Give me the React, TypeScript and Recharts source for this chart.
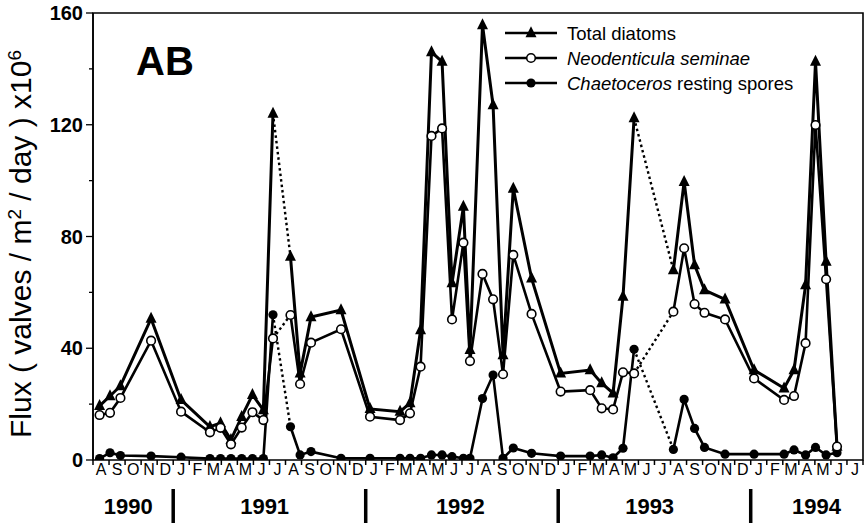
import { LineChart, Line, XAxis, YAxis, ReferenceArea } from 'recharts';

// sampling dates, in months after 1 Aug 1990
const sampleMonths = [
  0.41, 1.06, 1.71, 3.62, 5.49, 7.29, 7.95, 8.6, 9.27, 9.94, 10.62, 11.22,
  12.31, 12.91, 13.59, 15.46, 17.27, 19.14, 19.76, 20.42, 21.1, 21.76, 22.38, 23.09,
  23.5, 24.28, 24.94, 25.56, 26.2, 27.34, 29.15, 30.99, 31.71, 32.42, 33.04, 33.73,
  36.18, 36.85, 37.5, 38.12, 39.4, 41.21, 43.08, 43.7, 44.42, 45.04, 45.7, 46.38,
];

const totalDiatoms = [
  19.4, 22.9, 26.5, 50.6, 21.5, 11.9, 13.2, 7.2, 15.5, 23.3, 17.9, 124,
  72.8, 31, 51.2, 53.7, 18.3, 17.3, 20.4, 46.5, 146, 142.6, 63.3, 90.7,
  39.4, 155.7, 127, 37.6, 97.2, 65, 31, 32.2, 27.5, 23.9, 58.5, 122.4,
  68, 99.6, 69.8, 60.8, 57.5, 32.2, 25.7, 32.2, 62.6, 142.6, 71, 4.8,
];

const neodenticula = [
  16.1, 16.9, 22.2, 42.7, 17.3, 9.9, 11.5, 5.6, 11.6, 17.1, 14.3, 43.5,
  51.9, 27.2, 42, 46.8, 15.5, 14.3, 16.7, 33.4, 116, 118.7, 50.3, 77.8,
  35.4, 66.6, 57.5, 30.7, 73.4, 52.3, 24.5, 25, 18.5, 18.1, 31.4, 31,
  53.1, 75.8, 55.8, 52.7, 50.3, 29.2, 21.5, 22.9, 41.8, 119.9, 64.7, 4.8,
];

const chaetoceros = [
  0.5, 2.6, 1.6, 1.4, 1.0, 0.5, 0.5, 0.5, 0.5, 0.5, 0.5, 52,
  11.9, 1.8, 3, 0.6, 0.6, 0.6, 0.6, 0.6, 1.8, 1.8, 1.2, 0.6,
  0.6, 22, 30.4, 0.6, 4.3, 2.4, 1.4, 1.4, 1.8, 0.8, 4.2, 39.6,
  3.8, 21.7, 11.3, 4.5, 2.1, 2.1, 2.1, 3.6, 1.8, 4.5, 1.8, 2.6,
];

// no samples between these pairs -> dotted
const gapAfter = [11, 35];

const monthLetters = 'ASONDJFMAMJJASONDJFMAMJJASONDJFMAMJJASONDJFMAMJJ'.split('');
const years = ['1990', '1991', '1992', '1993', '1994'];
const yearCenters = [2.2, 10.7, 22.9, 34.7, 45.1];
const yearBreaks = [5, 17, 29, 41];
const yTicks = [0, 20, 40, 60, 80, 100, 120, 140, 160];

const FONT = '"Liberation Sans", Arial, Helvetica, sans-serif';

const Tri = ({ cx, cy, s = 11 }: any) => (
  <polygon
    points={`${cx},${cy - s * 0.62} ${cx - s * 0.5},${cy + s * 0.38} ${cx + s * 0.5},${cy + s * 0.38}`}
    fill="#000"
  />
);
const OpenDot = ({ cx, cy }: any) => (
  <circle cx={cx} cy={cy} r={4.3} fill="#fff" stroke="#000" strokeWidth={1.6} />
);
const FillDot = ({ cx, cy }: any) => <circle cx={cx} cy={cy} r={4.6} fill="#000" />;

const series = [
  { key: 'chaet', width: 2.6, dot: FillDot },
  { key: 'total', width: 3, dot: Tri },
  { key: 'neo', width: 2.6, dot: OpenDot },
];

// one tick list: month boundaries (tick marks + year bars), month centres (letters), year centres
const TimeTick = ({ x, y, payload }: any) => {
  const v = payload.value;
  const yi = yearCenters.indexOf(v);
  if (yi >= 0) {
    return (
      <text x={x} y={y + 54} textAnchor="middle" fontSize={22} fontWeight="bold" fontFamily={FONT} fill="#000">
        {years[yi]}
      </text>
    );
  }
  if (Number.isInteger(v)) {
    return (
      <g>
        <line x1={x} y1={y} x2={x} y2={y + 5} stroke="#000" strokeWidth={1.5} />
        {yearBreaks.includes(v) && (
          <line x1={x} y1={y + 29} x2={x} y2={y + 63} stroke="#000" strokeWidth={3.5} />
        )}
      </g>
    );
  }
  return (
    <text x={x} y={y + 15} textAnchor="middle" fontSize={16} fontFamily={FONT} fill="#000">
      {monthLetters[Math.floor(v)]}
    </text>
  );
};

const ValueTick = ({ x, y, payload }: any) => {
  const v = payload.value;
  const major = v % 40 === 0;
  return (
    <g>
      <line x1={x - (major ? 7 : 4)} y1={y} x2={x} y2={y} stroke="#000" strokeWidth={1.3} />
      {major && (
        <text x={x - 10} y={y + 7} textAnchor="end" fontSize={20} fontWeight="bold" fontFamily={FONT} fill="#000">
          {v}
        </text>
      )}
    </g>
  );
};

export default function App() {
  const rows = sampleMonths.map((m, i) => ({
    m,
    total: totalDiatoms[i],
    neo: neodenticula[i],
    chaet: chaetoceros[i],
  }));

  const cuts = [0, ...gapAfter.map((g) => g + 1), rows.length];
  const segments = cuts.slice(0, -1).map((a, i) => rows.slice(a, cuts[i + 1]));
  const bridges = gapAfter.map((g) => [rows[g], rows[g + 1]]);

  const timeTicks: number[] = [];
  for (let i = 0; i <= 48; i++) timeTicks.push(i);
  for (let i = 0; i < 48; i++) timeTicks.push(i + 0.5);
  timeTicks.push(...yearCenters);

  const legendRows = [
    { y: 33, dot: Tri, label: <tspan>Total diatoms</tspan> },
    { y: 58, dot: OpenDot, label: <tspan fontStyle="italic">Neodenticula seminae</tspan> },
    {
      y: 83,
      dot: FillDot,
      label: (
        <>
          <tspan fontStyle="italic">Chaetoceros</tspan>
          <tspan> resting spores</tspan>
        </>
      ),
    },
  ];

  return (
    <div style={{ position: 'absolute', left: 0, top: 0, background: '#fff' }}>
      <LineChart width={866} height={523} margin={{ top: 13, right: 3, bottom: 0, left: 0 }}>
        <XAxis
          xAxisId="m"
          type="number"
          dataKey="m"
          domain={[0, 48]}
          ticks={timeTicks}
          interval={0}
          height={63}
          tickSize={0}
          tickMargin={0}
          tickLine={false}
          axisLine={false}
          tick={<TimeTick />}
          allowDataOverflow
        />
        <YAxis
          type="number"
          domain={[0, 160]}
          ticks={yTicks}
          interval={0}
          width={93}
          tickSize={0}
          tickMargin={0}
          tickLine={false}
          axisLine={{ stroke: '#000', strokeWidth: 1.5 }}
          tick={<ValueTick />}
          allowDataOverflow
        />
        <ReferenceArea xAxisId="m" x1={0} x2={48} y1={0} y2={160} fill="none" stroke="#000" strokeWidth={1.6} />

        {series.map((s) =>
          bridges.map((b, i) => (
            <Line
              key={`${s.key}-gap-${i}`}
              xAxisId="m"
              data={b}
              dataKey={s.key}
              stroke="#000"
              strokeWidth={2.4}
              strokeDasharray="2.5 3"
              dot={false}
              activeDot={false}
              isAnimationActive={false}
            />
          ))
        )}
        {series.map((s) =>
          segments.map((seg, i) => (
            <Line
              key={`${s.key}-${i}`}
              xAxisId="m"
              data={seg}
              dataKey={s.key}
              stroke="#000"
              strokeWidth={s.width}
              dot={(p: any) => <s.dot key={p.index} cx={p.cx} cy={p.cy} />}
              activeDot={false}
              isAnimationActive={false}
            />
          ))
        )}

        <text x={136} y={75} fontSize={40} fontWeight="bold" fontFamily={FONT} fill="#000">
          AB
        </text>
        <text
          transform="rotate(-90)"
          x={-244}
          y={31}
          textAnchor="middle"
          fontSize={30}
          fontFamily={FONT}
          fill="#000"
        >
          Flux ( valves / m<tspan dy={-10} fontSize={19}>2</tspan>
          <tspan dy={10}> / day ) x10</tspan>
          <tspan dy={-10} fontSize={19}>6</tspan>
        </text>
        {legendRows.map((r, i) => (
          <g key={i}>
            <line x1={505} y1={r.y} x2={557} y2={r.y} stroke="#000" strokeWidth={2.6} />
            <r.dot cx={531} cy={r.y} />
            <text x={567} y={r.y + 6.5} fontSize={18.5} fontFamily={FONT} fill="#000">
              {r.label}
            </text>
          </g>
        ))}
      </LineChart>
    </div>
  );
}
